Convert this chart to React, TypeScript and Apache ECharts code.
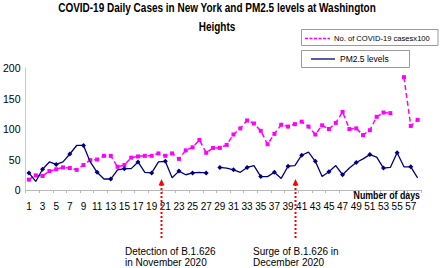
import React, { useEffect, useRef } from "react";
import * as echarts from "echarts";

const titleLines = ["COVID-19 Daily Cases in New York and PM2.5 levels at Washington", "Heights"];
const days = [
  "1", "2", "3", "4", "5", "6", "7", "8", "9", "10",
  "11", "12", "13", "14", "15", "16", "17", "18", "19", "20",
  "21", "22", "23", "24", "25", "26", "27", "28", "29", "30",
  "31", "32", "33", "34", "35", "36", "37", "38", "39", "40",
  "41", "42", "43", "44", "45", "46", "47", "48", "49", "50",
  "51", "52", "53", "54", "55", "56", "57", "58",
];
const covidCasesX100 = [
  17, 24, 23, 31, 34, 37, 36, 33, 41, 49,
  50, 56, 56, 38, 41, 53, 55, 56, 56, 60,
  56, 60, 51, 65, 70, 82, 61, 69, 69, 74,
  91, 101, 114, 109, 97, 75, 92, 107, 104, 108,
  112, 104, 91, 106, 100, 110, 128, 100, 101, 90,
  98, 120, 127, 126, null, 185, 105, 115,
];
const pm25Levels = [
  28, 14, 34, 46, 42, 46, 59, 73, 73, 46,
  29, 18, 18, 33, 35, 35, 46, 29, 28, 46,
  47, 20, 31, 25, 28, 29, 28, null, 37, 36,
  33, 29, 37, 40, 22, 22, 29, 19, 39, 40,
  57, 62, 47, 22, 30, 40, 25, 36, 45, 51,
  58, 54, 36, 37, 61, 38, 38, 20,
];
const seriesNames = ["No. of COVID-19 casesx100", "PM2.5 levels"];
const xAxisTitle = "Number of days";
const annotations = [
  { day: "20", lines: "Detection of B.1.626\nin November 2020" },
  { day: "40", lines: "Surge of B.1.626 in\nDecember 2020" },
];

const SANS = "'Liberation Sans', Arial, sans-serif";

export default function App() {
  const ref = useRef<HTMLDivElement>(null);
  useEffect(() => {
    if (!ref.current) return;
    const chart = echarts.init(ref.current, null, { renderer: "svg" });
    chart.setOption({
      animation: false,
      backgroundColor: "#ffffff",
      grid: { left: 21, right: 19, top: 68, bottom: 78 },
      xAxis: {
        type: "category",
        data: days,
        boundaryGap: true,
        axisLine: { lineStyle: { color: "#b8b8b8", width: 1 } },
        axisTick: { show: true, length: 3, lineStyle: { color: "#b8b8b8" } },
        axisLabel: {
          interval: 1,
          margin: 11,
          fontFamily: SANS,
          fontSize: 10,
          color: "#000",
        },
        splitLine: { show: false },
      },
      yAxis: {
        type: "value",
        min: 0,
        max: 200,
        interval: 50,
        axisLine: { show: true, lineStyle: { color: "#c8c8c8", width: 1 } },
        axisTick: { show: false },
        axisLabel: { margin: 5, fontFamily: SANS, fontSize: 10.5, color: "#000" },
        splitLine: { show: false },
      },
      series: [
        {
          name: seriesNames[0],
          type: "line",
          data: covidCasesX100,
          connectNulls: false,
          symbol: "rect",
          symbolSize: 4,
          itemStyle: { color: "#FF00FF" },
          lineStyle: { color: "#FF00FF", width: 1.5, type: [5, 3] },
          z: 3,
        },
        {
          name: seriesNames[1],
          type: "line",
          data: pm25Levels,
          connectNulls: false,
          symbol: "diamond",
          symbolSize: 5,
          itemStyle: { color: "#000080" },
          lineStyle: { color: "#000080", width: 1.3 },
          z: 4,
        },
      ],
    });

    const step = (chart.convertToPixel({ xAxisIndex: 0 }, 1) as number) - (chart.convertToPixel({ xAxisIndex: 0 }, 0) as number);
    const graphics: any[] = [
      // title (narrow bold look)
      { type: "text", x: 217, y: 8, scaleX: 0.8, style: { text: titleLines[0], fontFamily: SANS, fontSize: 12.5, fontWeight: "bold", fill: "#000", align: "center", verticalAlign: "middle" }, z: 11 },
      { type: "text", x: 217, y: 27, scaleX: 0.8, style: { text: titleLines[1], fontFamily: SANS, fontSize: 12.5, fontWeight: "bold", fill: "#000", align: "center", verticalAlign: "middle" }, z: 11 },
      // legend boxes
      { type: "rect", shape: { x: 301.5, y: 29.5, width: 136.5, height: 16 }, style: { fill: "#fff", stroke: "#9a9a9a", lineWidth: 1 }, z: 10 },
      { type: "line", shape: { x1: 305, y1: 38.5, x2: 330, y2: 38.5 }, style: { stroke: "#FF00FF", lineWidth: 1.3, lineDash: [3, 1.5] }, z: 11 },
      { type: "text", x: 334, y: 38.5, style: { text: seriesNames[0], fontFamily: SANS, fontSize: 7.6, fill: "#000", verticalAlign: "middle" }, z: 11 },
      { type: "rect", shape: { x: 301.5, y: 50.5, width: 108, height: 17 }, style: { fill: "#fff", stroke: "#9a9a9a", lineWidth: 1 }, z: 10 },
      { type: "line", shape: { x1: 311, y1: 59, x2: 335, y2: 59 }, style: { stroke: "#000080", lineWidth: 1.3 }, z: 11 },
      { type: "text", x: 340, y: 59, style: { text: seriesNames[1], fontFamily: SANS, fontSize: 8.5, fill: "#000", verticalAlign: "middle" }, z: 11 },
      // axis title
      { type: "text", x: 420, y: 195.5, scaleX: 0.8, style: { text: xAxisTitle, fontFamily: SANS, fontSize: 11, fontWeight: "bold", fill: "#000", align: "right", verticalAlign: "middle" }, z: 11 },
    ];
    annotations.forEach((a, i) => {
      const idx = days.indexOf(a.day);
      const cx = Math.round((chart.convertToPixel({ xAxisIndex: 0 }, idx) as number) + (i === 0 ? step * 0.35 : 0)) + 0.5;
      graphics.push(
        { type: "line", shape: { x1: cx, y1: 238, x2: cx, y2: 185 }, style: { stroke: "#FF0000", lineWidth: 2, lineDash: [2, 2] }, z: 12 },
        { type: "polygon", shape: { points: [[cx, 179], [cx - 3, 185.5], [cx + 3, 185.5]] }, style: { fill: "#FF0000" }, z: 12 },
      );
    });
    graphics.push(
      { type: "text", x: 125, y: 245.5, style: { text: annotations[0].lines, fontFamily: SANS, fontSize: 10, lineHeight: 11, fill: "#000" }, z: 11 },
      { type: "text", x: 253, y: 245.5, style: { text: annotations[1].lines, fontFamily: SANS, fontSize: 10, lineHeight: 11, fill: "#000" }, z: 11 },
    );
    chart.setOption({ graphic: graphics });
    return () => chart.dispose();
  }, []);
  return <div ref={ref} style={{ position: "fixed", left: 0, top: 0, width: 440, height: 268 }} />;
}
